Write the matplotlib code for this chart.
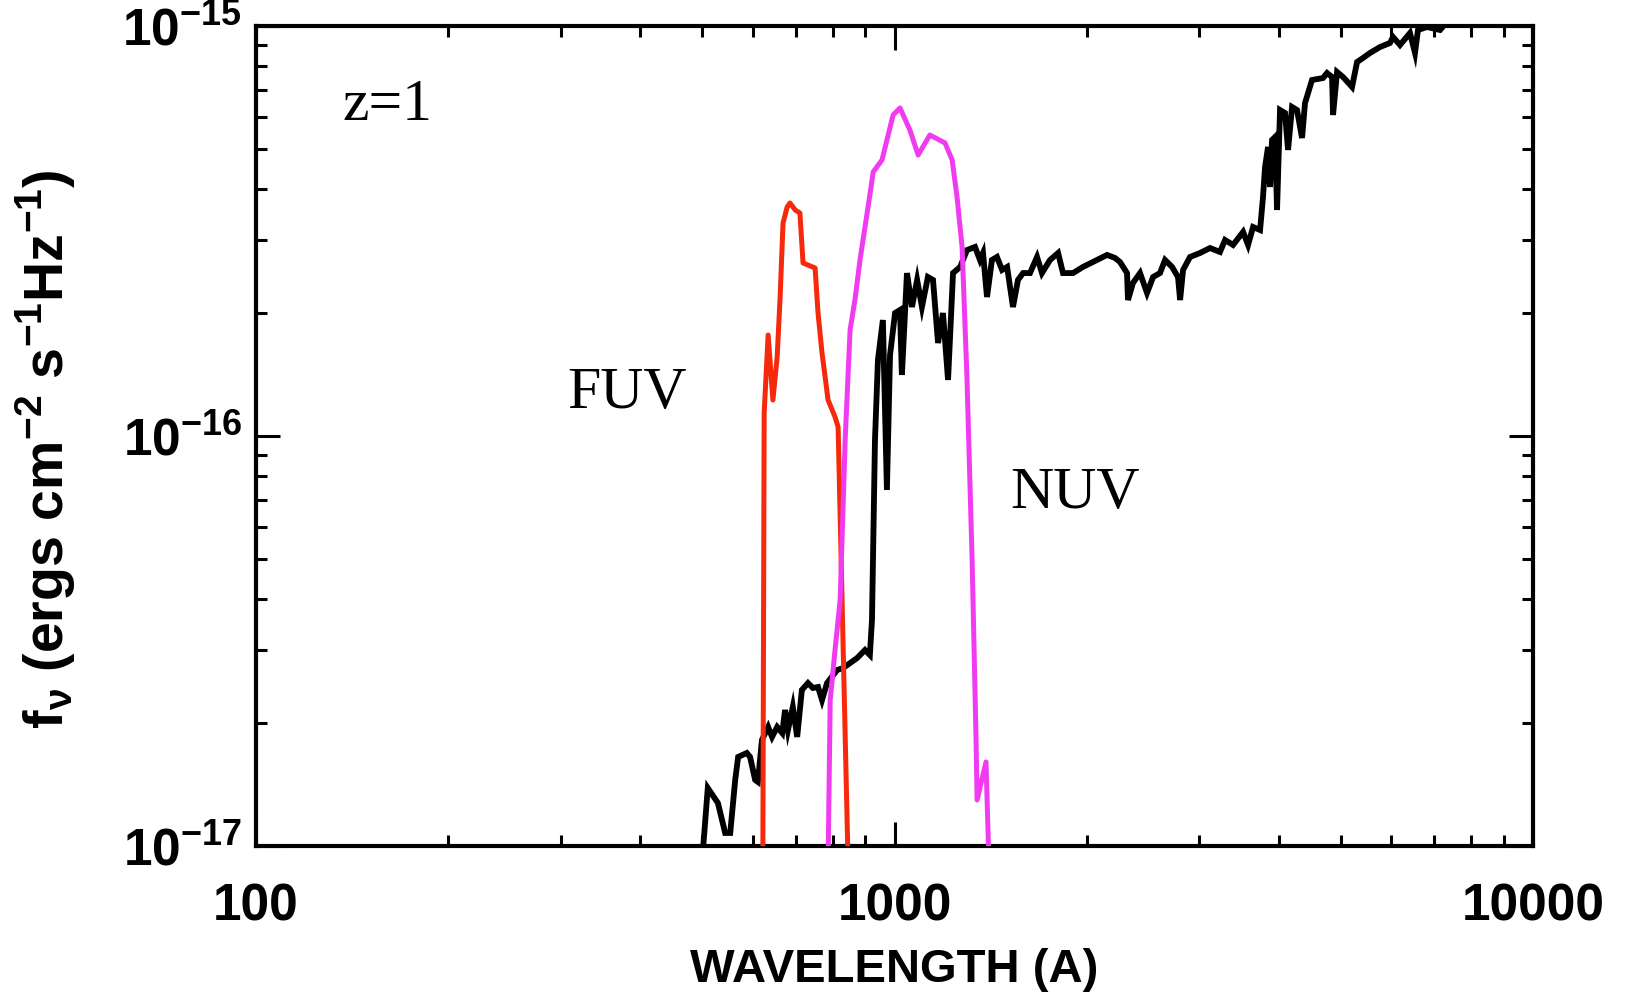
import matplotlib
matplotlib.use('Agg')
import matplotlib.pyplot as plt
from matplotlib.ticker import FixedLocator, NullFormatter, FuncFormatter, LogLocator
import numpy as np

# ---------------- data ----------------
# black: galaxy spectrum at z=1, wavelength (A) and f_nu in units of 1e-17
black_wave = [501, 510, 529, 543, 553, 563, 569, 587, 594, 605, 611, 620, 634, 643, 655, 667,
              674, 681, 693, 704, 716, 732, 745, 759, 770, 784, 813, 831, 852, 874, 899, 915,
              922, 932, 942, 959, 973, 984, 1002, 1020, 1027, 1046, 1065, 1085, 1104, 1128,
              1149, 1170, 1191, 1213, 1235, 1267, 1299, 1337, 1361, 1376, 1396, 1421, 1447,
              1474, 1501, 1533, 1561, 1590, 1630, 1672, 1702, 1752, 1804, 1836, 1904, 1973,
              2076, 2152, 2215, 2255, 2313, 2321, 2363, 2424, 2486, 2541, 2605, 2653, 2721,
              2780, 2801, 2831, 2903, 3010, 3120, 3234, 3294, 3390, 3515, 3579, 3644, 3737,
              3777, 3805, 3846, 3874, 3902, 3945, 3973, 4016, 4089, 4134, 4194, 4270, 4348,
              4395, 4507, 4690, 4758, 4845, 4862, 4933, 5041, 5207, 5302, 5418, 5556, 5760,
              5970, 6036, 6190, 6417, 6534, 6605, 6823, 7151, 7333]
black_flux = [0.97, 1.385, 1.273, 1.076, 1.076, 1.449, 1.649, 1.686, 1.649, 1.449, 1.433, 1.814,
              1.951, 1.845, 1.951, 1.886, 2.147, 1.918, 2.183, 1.845, 2.402, 2.497, 2.429, 2.442,
              2.270, 2.497, 2.687, 2.718, 2.795, 2.874, 3.006, 2.923,
              3.558, 9.78, 15.32, 19.18, 7.386, 15.76, 19.95, 20.29, 14.09, 24.97, 20.64, 24.02,
              20.64, 24.42, 24.02, 16.86, 19.95, 13.70, 24.97, 25.84, 28.42, 28.91, 26.87, 27.95,
              21.83, 26.87, 27.33, 25.41, 25.84, 20.64, 24.02, 24.97, 24.97, 27.33, 24.97, 26.87,
              27.95, 24.97, 24.97, 25.84, 26.87, 27.64, 27.18, 26.57, 24.97, 21.46, 23.62, 24.97,
              22.33, 24.42, 24.97, 26.87, 25.84, 24.42, 21.46, 25.41, 27.33, 27.95, 28.74, 28.11,
              30.06, 29.24, 31.45, 29.24, 32.34, 31.80, 38.28, 45.30, 50.70, 40.49, 52.72, 53.62,
              35.58, 62.39, 61.35, 49.86, 63.45, 62.39, 53.32, 64.90, 73.84, 74.67, 76.80, 75.09,
              60.67, 77.23, 75.09, 71.01, 81.68, 83.56, 85.96, 88.87, 90.89, 94.02, 89.88, 96.14,
              85.96, 97.78, 99.45, 97.78, 102.3]

# red: FUV filter curve (arbitrary scaling, same units)
fuv_wave = [622, 625, 634, 645, 655, 662, 669, 679, 686, 699, 711, 719, 751, 759, 770, 787,
            807, 816, 846]
fuv_flux = [0.9, 11.38, 17.63, 12.24, 15.58, 21.83, 33.07, 36.18, 37.01, 35.58, 34.99, 26.42,
            25.69, 19.95, 15.94, 12.24, 11.13, 10.52, 0.9]

# magenta: NUV filter curve
nuv_wave = [787, 793, 807, 822, 837, 852, 867, 883, 915, 926, 956, 995, 1020, 1057, 1089, 1136,
            1200, 1231, 1253, 1276, 1299, 1323, 1342, 1347, 1391, 1406]
nuv_flux = [0.9, 2.27, 3.006, 3.981, 9.78, 18.14, 21.46, 26.87, 38.71, 44.05, 47.13, 60.67,
            63.10, 55.77, 48.45, 54.22, 51.84, 47.13, 38.28, 28.91, 13.70, 4.985, 1.814, 1.295,
            1.603, 0.9]

unit = 1e-17
x_ticks = [100, 1000, 10000]
x_ticklabels = ['100', '1000', '10000']
y_ticks = [1e-17, 1e-16, 1e-15]

# ---------------- figure ----------------
FONT = 'Liberation Sans'
SERIF = 'Liberation Serif'

plt.rcParams['mathtext.fontset'] = 'custom'
plt.rcParams['mathtext.rm'] = FONT
plt.rcParams['mathtext.bf'] = FONT + ':bold'

fig = plt.figure(figsize=(16.32, 9.93), dpi=100)
ax = fig.add_axes([256 / 1632, 1 - 846 / 993, 1277 / 1632, 820 / 993])

ax.plot(black_wave, np.array(black_flux) * unit, color='black', lw=4.2,
        solid_joinstyle='miter', zorder=3)
ax.plot(fuv_wave, np.array(fuv_flux) * unit, color='#F52A0C', lw=3.6, zorder=4)
ax.plot(nuv_wave, np.array(nuv_flux) * unit, color='#F03CF0', lw=3.6, zorder=4)

ax.set_xscale('log')
ax.set_yscale('log')
ax.set_xlim(100, 10000)
ax.set_ylim(1e-17, 1e-15)

ax.xaxis.set_major_locator(FixedLocator(x_ticks))
ax.xaxis.set_major_formatter(FuncFormatter(lambda v, p: x_ticklabels[x_ticks.index(int(round(v)))]
                                           if int(round(v)) in x_ticks else ''))
ax.xaxis.set_minor_locator(LogLocator(base=10, subs=np.arange(2, 10)))
ax.xaxis.set_minor_formatter(NullFormatter())

ax.yaxis.set_major_locator(FixedLocator(y_ticks))
ax.yaxis.set_major_formatter(FuncFormatter(
    lambda v, p: r'$\mathregular{10^{%d}}$' % int(round(np.log10(v)))))
ax.yaxis.set_minor_locator(LogLocator(base=10, subs=np.arange(2, 10)))
ax.yaxis.set_minor_formatter(NullFormatter())

for s in ax.spines.values():
    s.set_linewidth(3.0)

ax.tick_params(which='both', direction='in', top=True, right=True, width=2.2, color='black')
ax.tick_params(which='major', length=17)
ax.tick_params(which='minor', length=8)
ax.tick_params(axis='x', which='major', pad=26, labelsize=37)
ax.tick_params(axis='y', which='major', pad=10, labelsize=37)
for lab in ax.get_xticklabels() + ax.get_yticklabels():
    lab.set_fontfamily(FONT)
    lab.set_fontweight('bold')

ax.set_xlabel('WAVELENGTH (A)', fontsize=34, family=FONT, fontweight='bold')
ax.xaxis.set_label_coords(0.5, -0.125)
ax.set_ylabel(r'f$_{\mathregular{ν}}$ (ergs cm$^{\mathregular{-2}}$ s$^{\mathregular{-1}}$'
              r'Hz$^{\mathregular{-1}}$)', fontsize=40, family=FONT, fontweight='bold')
ax.yaxis.set_label_coords(-0.139, 0.484)

ax.text(0.068, 0.885, 'z=1', transform=ax.transAxes, fontsize=43, family=SERIF,
        ha='left', va='baseline')
ax.text(0.2435, 0.534, 'FUV', transform=ax.transAxes, fontsize=43, family=SERIF,
        ha='left', va='baseline')
ax.text(0.5904, 0.412, 'NUV', transform=ax.transAxes, fontsize=43, family=SERIF,
        ha='left', va='baseline')

fig.savefig('out.png', dpi=100)
